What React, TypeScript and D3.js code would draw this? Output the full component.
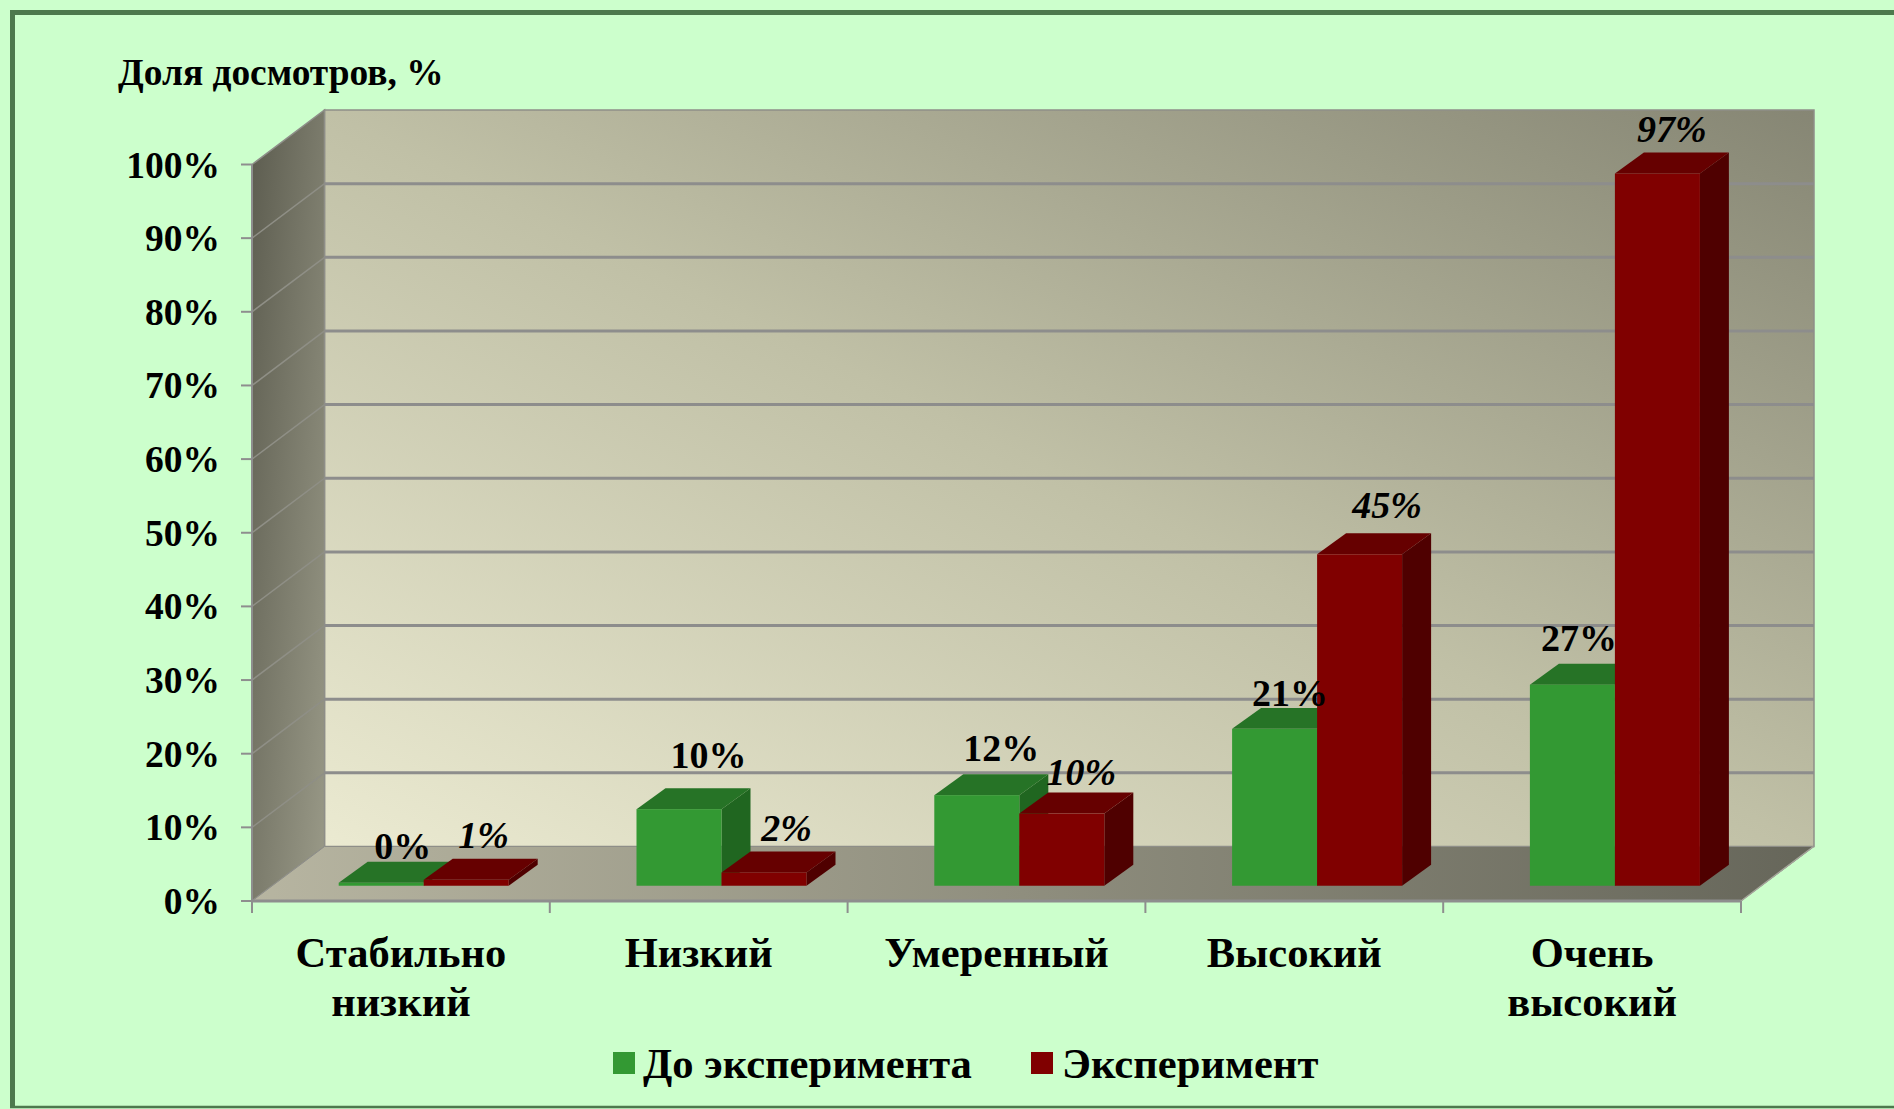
import React from "react";
import * as d3 from "d3";

const categories = [["Стабильно", "низкий"], ["Низкий"], ["Умеренный"], ["Высокий"], ["Очень", "высокий"]];
const seriesNames = ["До эксперимента", "Эксперимент"];
const beforeValues = [0.4, 10.4, 12.3, 21.3, 27.3];
const experimentValues = [0.8, 1.8, 9.8, 45, 96.7];
const beforeLabels = ["0%", "10%", "12%", "21%", "27%"];
const experimentLabels = ["1%", "2%", "10%", "45%", "97%"];
const yTicks = [0, 10, 20, 30, 40, 50, 60, 70, 80, 90, 100];

const W = 1894, H = 1109;
const FX0 = 252, FX1 = 1741, FY0 = 901, FY100 = 164.5;
const DX = 72.5, DY = -54.5; // full depth of the box
const BAR_NEAR = 0.28, BAR_FAR = 0.665; // bar position along the depth
const BAR_W = 85;
const BAR_SHIFT = 2.5;
const FONT = "'Liberation Serif', 'Times New Roman', serif";

const x = d3.scaleBand<number>().domain(d3.range(categories.length)).range([FX0, FX1]);
const y = d3.scaleLinear().domain([0, 100]).range([FY0, FY100]);
const pts = (p: number[][]) => p.map((q) => q.join(",")).join(" ");

const beforeNudge = [[10, -24], [18, -41], [13, -34], [4, -23], [-5, -34]];
const expNudge = [[6, -32], [11, -31], [8, -29], [16, -36], [3, -32]];

function Bar({ x0, v, front, top, side }: { x0: number; v: number; front: string; top: string; side: string }) {
  const nx = BAR_NEAR * DX, ny = BAR_NEAR * DY;
  const ox = 29, oy = (BAR_FAR - BAR_NEAR) * DY;
  const l = x0 + nx + BAR_SHIFT, r = l + BAR_W;
  const b = y(0) + ny, t = y(v) + ny;
  return (
    <g>
      <polygon points={pts([[r, b], [r + ox, b + oy], [r + ox, t + oy], [r, t]])} fill={side} />
      <polygon points={pts([[l, t], [r, t], [r + ox, t + oy], [l + ox, t + oy]])} fill={top} />
      <rect x={l} y={t} width={BAR_W} height={b - t} fill={front} />
    </g>
  );
}

export default function App() {
  const groupStart = (i: number) => x(i)! + x.bandwidth() / 2 - BAR_W;
  return (
    <svg width={W} height={H} style={{ position: "fixed", left: 0, top: 0, display: "block" }} fontFamily={FONT}>
      <defs>
        <linearGradient id="back" x1="0" y1="1" x2="1" y2="0">
          <stop offset="0" stopColor="#ebead1" />
          <stop offset="0.5" stopColor="#c0c0a6" />
          <stop offset="1" stopColor="#868674" />
        </linearGradient>
        <linearGradient id="left" x1="0" y1="0" x2="1" y2="1">
          <stop offset="0" stopColor="#5c5c4f" />
          <stop offset="1" stopColor="#9a9a88" />
        </linearGradient>
        <linearGradient id="floor" x1="0" y1="0" x2="1" y2="0">
          <stop offset="0" stopColor="#b7b5a1" />
          <stop offset="1" stopColor="#66665a" />
        </linearGradient>
      </defs>
      <rect width={W} height={H} fill="#ccffcc" />
      <path d={`M${W},12.5 H12.5 V${H - 2}`} fill="none" stroke="#4d794d" strokeWidth={5} />
      <line x1={10} x2={W} y1={H - 2} y2={H - 2} stroke="#4d794d" strokeWidth={2.5} />

      <polygon points={pts([[FX0 + DX, y(100) + DY], [1814, y(100) + DY], [1814, y(0) + DY], [FX0 + DX, y(0) + DY]])} fill="url(#back)" stroke="#8e8e88" strokeWidth={1.5} />
      <polygon points={pts([[FX0, y(0)], [FX0 + DX, y(0) + DY], [FX0 + DX, y(100) + DY], [FX0, y(100)]])} fill="url(#left)" stroke="#8e8e88" strokeWidth={1.5} />
      <polygon points={pts([[FX0, y(0)], [FX0 + DX, y(0) + DY], [1814, y(0) + DY], [FX1, y(0)]])} fill="url(#floor)" stroke="#8e8e88" strokeWidth={1} />

      {yTicks.map((t) => (
        <g key={t}>
          {t > 0 && t < 100 && <line x1={FX0 + DX} x2={1814} y1={y(t) + DY} y2={y(t) + DY} stroke="#8d8d8c" strokeWidth={3} />}
          {t > 0 && t < 100 && <line x1={FX0} x2={FX0 + DX} y1={y(t)} y2={y(t) + DY} stroke="#8f8f86" strokeWidth={1.5} />}
          <line x1={241} x2={FX0} y1={y(t)} y2={y(t)} stroke="#8e8e8e" strokeWidth={2} />
          <text x={220} y={y(t) + 13} textAnchor="end" fontWeight="bold" fontSize={37.5}>{t}%</text>
        </g>
      ))}
      <line x1={FX0} x2={FX1} y1={FY0} y2={FY0} stroke="#8e8e8e" strokeWidth={3} />
      <line x1={FX0} x2={FX0} y1={y(100)} y2={FY0} stroke="#8e8e8e" strokeWidth={2} />
      <line x1={FX1} x2={FX1 + DX} y1={FY0} y2={FY0 + DY} stroke="#a4a49a" strokeWidth={1.5} />
      {d3.range(categories.length + 1).map((i) => {
        const px = FX0 + i * x.step();
        return <line key={i} x1={px} x2={px} y1={FY0} y2={913} stroke="#8e8e8e" strokeWidth={2} />;
      })}

      {categories.map((_, i) => (
        <g key={i}>
          <Bar x0={groupStart(i)} v={beforeValues[i]} front="#339933" top="#267326" side="#206620" />
          <Bar x0={groupStart(i) + BAR_W} v={experimentValues[i]} front="#800000" top="#660000" side="#4f0000" />
        </g>
      ))}

      {categories.map((_, i) => {
        const cx = x(i)! + x.bandwidth() / 2;
        return (
          <g key={i}>
            <text x={groupStart(i) + beforeNudge[i][0] + BAR_NEAR * DX + BAR_W / 2 + 14} y={y(beforeValues[i]) + BAR_NEAR * DY + beforeNudge[i][1]} textAnchor="middle" fontWeight="bold" fontSize={38}>{beforeLabels[i]}</text>
            <text x={groupStart(i) + BAR_W + expNudge[i][0] + BAR_NEAR * DX + BAR_W / 2 + 14} y={y(experimentValues[i]) + BAR_NEAR * DY + expNudge[i][1]} textAnchor="middle" fontWeight="bold" fontStyle="italic" fontSize={38}>{experimentLabels[i]}</text>
            {categories[i].map((line, k) => (
              <text key={k} x={cx} y={967 + k * 49} textAnchor="middle" fontWeight="bold" fontSize={42.5}>{line}</text>
            ))}
          </g>
        );
      })}

      <text x={118} y={85} fontWeight="bold" fontSize={37.4}>Доля досмотров, %</text>

      <rect x={613} y={1052} width={22} height={22} fill="#339933" />
      <text x={643} y={1078} fontWeight="bold" fontSize={42.6}>{seriesNames[0]}</text>
      <rect x={1031} y={1052} width={22} height={22} fill="#800000" />
      <text x={1062} y={1078} fontWeight="bold" fontSize={42.6}>{seriesNames[1]}</text>
    </svg>
  );
}
